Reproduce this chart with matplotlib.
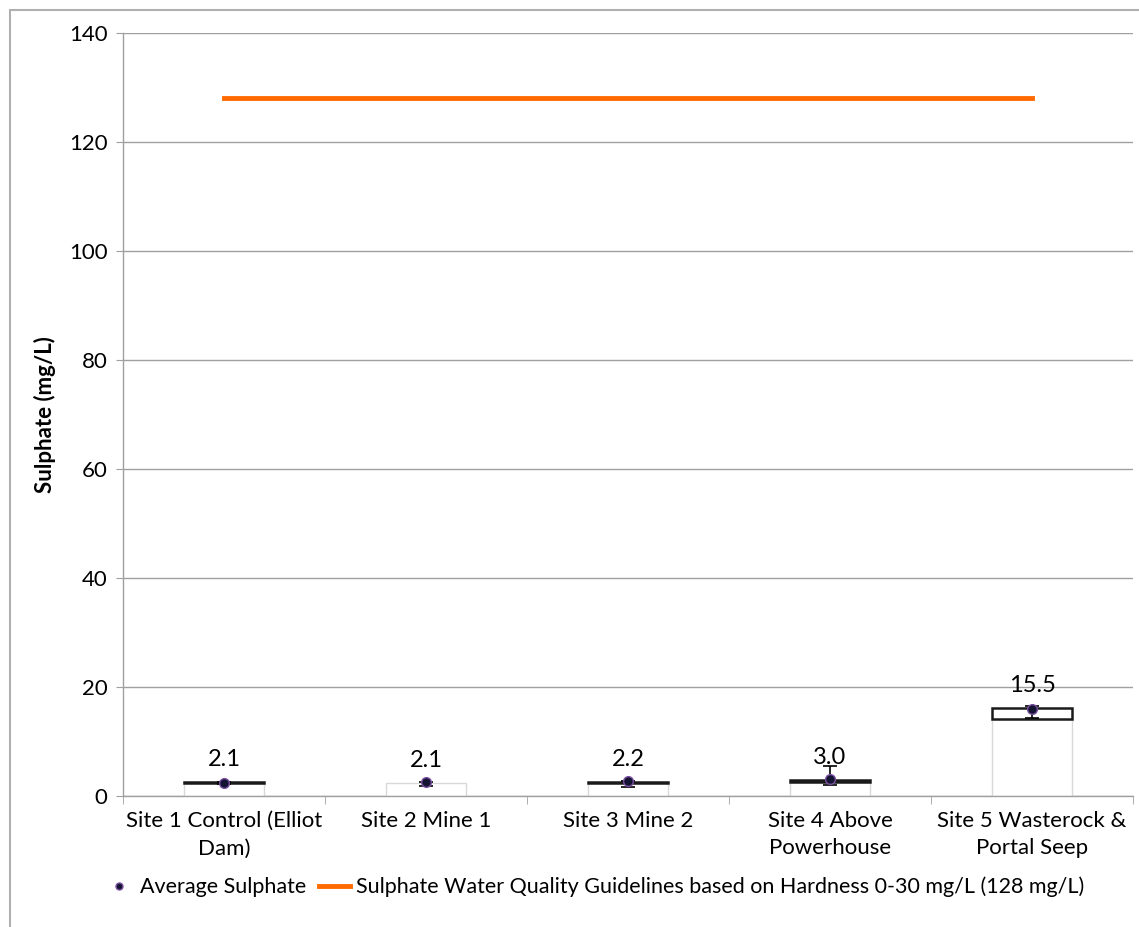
import matplotlib
matplotlib.use("Agg")
import matplotlib.pyplot as plt
from matplotlib.patches import Rectangle
from matplotlib.lines import Line2D
import numpy as np

plt.rcParams['font.family'] = ['Lato', 'DejaVu Sans']

categories = ["Site 1 Control (Elliot\nDam)", "Site 2 Mine 1", "Site 3 Mine 2",
              "Site 4 Above\nPowerhouse", "Site 5 Wasterock &\nPortal Seep"]
avg_labels = [2.1, 2.1, 2.2, 3.0, 15.5]
avg_points = [2.3, 2.6, 2.7, 3.2, 16.0]
box_low = [2.3, 2.4, 2.3, 2.6, 14.2]
box_high = [2.6, 2.4, 2.6, 3.0, 16.2]
err_low = [2.2, 1.8, 1.7, 2.1, 14.4]
err_high = [2.5, 2.6, 2.8, 5.5, 16.6]
guideline = [128, 128, 128, 128, 128]

fig = plt.figure(figsize=(11.39, 9.27), dpi=100)
fig.patches.append(Rectangle((10/1139, -0.5), 2, 1.5 - 10/927, transform=fig.transFigure,
                             fill=False, edgecolor='#b0b0b0', linewidth=1.5, zorder=0))
ax = fig.add_axes([123/1139, 1 - 796/927, (1133-123)/1139, (796-33)/927])

x = np.arange(len(categories))
w = 0.4
# base bars
ax.bar(x, box_low, width=w, color='white', edgecolor='#d9d9d9', linewidth=1, zorder=2)
# boxes
heights = np.array(box_high) - np.array(box_low)
for xi, lo, h in zip(x, box_low, heights):
    if h > 0:
        ax.bar(xi, h, bottom=lo, width=w, color='white', edgecolor='#1a1a1a', linewidth=1.8, zorder=3)
# error bars
lower = np.array(avg_points) - np.array(err_low)
upper = np.array(err_high) - np.array(avg_points)
ax.errorbar(x, avg_points, yerr=[lower, upper], fmt='none', ecolor='black', elinewidth=1.2,
            capsize=5, capthick=1.2, zorder=4)
ax.plot(x, avg_points, 'o', color='#141432', markeredgecolor='#7a4fa0', markersize=7,
        markeredgewidth=1, linestyle='none', zorder=5)
# guideline
ax.plot(x, guideline, color='#ff6a00', linewidth=3.5, zorder=3)

for xi, top, lab in zip(x, box_high, avg_labels):
    ax.annotate(f"{lab:.1f}", (xi, top), xytext=(0, 16), textcoords='offset points',
                ha='center', va='center', fontsize=17, color='black', zorder=6)

ax.set_xlim(-0.5, 4.5)
ax.set_ylim(0, 140)
ax.set_yticks(np.arange(0, 141, 20))
ax.tick_params(axis='y', labelsize=16, length=5, color='#a0a0a0', pad=6)
ax.set_xticks(x)
ax.set_xticklabels(categories, fontsize=16, linespacing=1.45)
ax.tick_params(axis='x', length=0, pad=11)
ax.set_xticks(np.arange(-0.5, 5, 1), minor=True)
ax.tick_params(axis='x', which='minor', length=6, color='#a0a0a0')
ax.grid(axis='y', color='#a0a0a0', linewidth=1, zorder=0)
ax.set_axisbelow(True)
for s in ['top', 'right']:
    ax.spines[s].set_visible(False)
for s in ['left', 'bottom']:
    ax.spines[s].set_color('#a0a0a0')
    ax.spines[s].set_linewidth(1)
ax.set_ylabel("Sulphate (mg/L)", fontsize=16, fontweight='bold')
ax.yaxis.set_label_coords((56 - 123) / 1010, 0.5)

handles = [Line2D([], [], marker='o', color='#141432', markeredgecolor='#7a4fa0',
                  markersize=5, linestyle='none'),
           Line2D([], [], color='#ff6a00', linewidth=3.5)]
fig.legend(handles, ["Average Sulphate",
                     "Sulphate Water Quality Guidelines based on Hardness 0-30 mg/L (128 mg/L)"],
           loc='center', bbox_to_anchor=(594/1139, 1 - 887/927), ncol=2, frameon=False,
           fontsize=15.5, handlelength=1.4, handletextpad=0.3, columnspacing=0.6)

fig.savefig("out.png", dpi=100)
